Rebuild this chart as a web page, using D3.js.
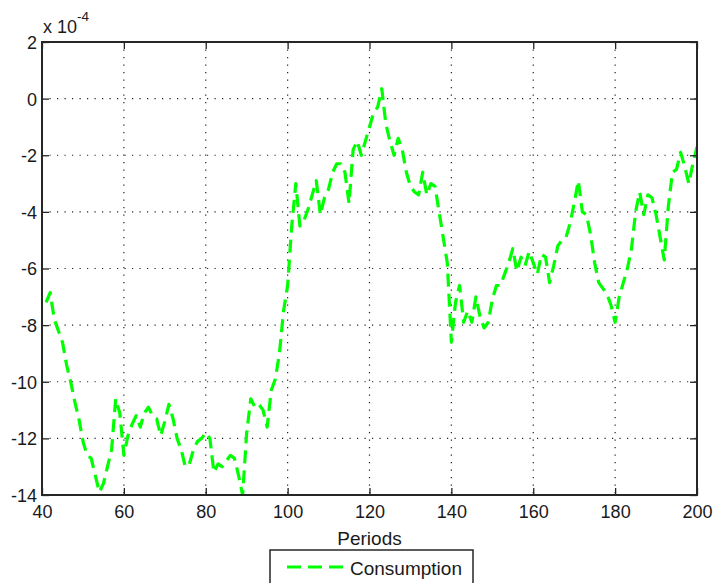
<!DOCTYPE html>
<html>
<head>
<meta charset="utf-8">
<script src="https://cdn.jsdelivr.net/npm/d3@7"></script>
<style>
  html, body { margin: 0; padding: 0; background: #fff; }
  svg { display: block; }
  text { font-family: Arial, "Liberation Sans", Helvetica, sans-serif; fill: #1a1a1a; }
</style>
</head>
<body>
<svg id="chart" width="715" height="583"></svg>
<script>
// ---- data (values in units of 1e-4) ----
const firstPeriod = 41;
const consumption = [
  -7.2, -6.85, -7.8, -8.2, -8.6, -9.4, -10.0, -10.7, -11.3, -12.1,
  -12.6, -12.7, -13.3, -13.9, -13.6, -13.0, -12.4, -10.6, -11.1, -12.6,
  -11.9, -11.5, -11.2, -11.6, -11.1, -10.9, -11.2, -11.3, -11.9, -11.4,
  -10.8, -11.3, -12.0, -12.4, -13.0, -12.9, -12.4, -12.1, -12.0, -11.8,
  -12.0, -13.2, -12.9, -13.0, -12.8, -12.6, -12.7, -13.3, -14.0, -11.8,
  -10.6, -10.9, -10.8, -11.0, -11.6, -10.3, -9.9, -9.0, -7.5, -6.6,
  -4.5, -3.0, -4.5, -4.3, -3.9, -3.4, -2.9, -4.1, -3.5, -3.2,
  -2.6, -2.3, -2.3, -2.6, -3.7, -1.8, -1.5, -2.0, -1.5, -1.0,
  -0.5, -0.3, 0.35, -0.9, -1.5, -2.0, -1.4, -1.8, -2.6, -3.1,
  -3.3, -3.4, -2.6, -3.4, -3.0, -3.1, -4.0, -4.9, -5.8, -8.6,
  -7.2, -6.6, -7.9, -7.5, -7.9, -7.0, -7.7, -8.1, -7.9, -7.1,
  -6.6, -6.6, -6.2, -5.8, -5.3, -6.1, -5.6, -5.9, -5.4, -5.8,
  -6.2, -5.5, -5.6, -6.5, -5.9, -5.2, -5.0, -4.9, -4.4, -3.7,
  -2.9, -4.0, -4.1, -4.8, -5.8, -6.5, -6.7, -6.9, -7.3, -7.9,
  -7.0, -6.5, -6.0, -5.3, -4.0, -3.3, -4.1, -3.4, -3.5, -4.1,
  -4.9, -5.7, -3.8, -2.6, -2.5, -1.9, -2.4, -3.0, -2.3, -1.7
];
const xTicks = [40, 60, 80, 100, 120, 140, 160, 180, 200];
const yTicks = [2, 0, -2, -4, -6, -8, -10, -12, -14];
const xDomain = [40, 200];
const yDomain = [-14, 2];
const xLabel = "Periods";
const seriesName = "Consumption";
const exponentBase = "x 10";
const exponentPower = "-4";

// ---- layout ----
const svg = d3.select("#chart");
const L = 42, R = 697, T = 42, B = 495;
const x = d3.scaleLinear().domain(xDomain).range([L, R]);
const y = d3.scaleLinear().domain(yDomain).range([B, T]);

const points = consumption.map((v, i) => ({ p: firstPeriod + i, v }));

svg.append("rect").attr("x", 0).attr("y", 0).attr("width", 715).attr("height", 583).attr("fill", "#fff");

// grid
const grid = svg.append("g").attr("stroke", "#222").attr("stroke-width", 1.2)
  .attr("stroke-dasharray", "1.2,6.3");
xTicks.filter(t => t > xDomain[0] && t < xDomain[1]).forEach(t => {
  grid.append("line").attr("x1", x(t)).attr("x2", x(t)).attr("y1", T).attr("y2", B);
});
yTicks.filter(t => t > yDomain[0] && t < yDomain[1]).forEach(t => {
  grid.append("line").attr("x1", L).attr("x2", R).attr("y1", y(t)).attr("y2", y(t));
});

// clip
svg.append("clipPath").attr("id", "clip").append("rect")
  .attr("x", L).attr("y", T).attr("width", R - L).attr("height", B - T);

// line
const line = d3.line().x(d => x(d.p)).y(d => y(d.v));
svg.append("path").datum(points)
  .attr("clip-path", "url(#clip)")
  .attr("d", line)
  .attr("fill", "none")
  .attr("stroke", "#00ff00")
  .attr("stroke-width", 3.2)
  .attr("stroke-dasharray", "13,7")
  .attr("stroke-linejoin", "round");

// axes (bottom / left with labels, inner ticks)
const tickLen = 7;
const xAxis = d3.axisBottom(x).tickValues(xTicks).tickSizeInner(-tickLen).tickSizeOuter(0).tickPadding(10).tickFormat(d => String(d));
const yAxis = d3.axisLeft(y).tickValues(yTicks).tickSizeInner(-tickLen).tickSizeOuter(0).tickPadding(5).tickFormat(d => String(d));
const gx = svg.append("g").attr("transform", `translate(0,${B})`).call(xAxis);
const gy = svg.append("g").attr("transform", `translate(${L},0)`).call(yAxis);
[gx, gy].forEach(g => {
  g.select(".domain").remove();
  g.selectAll(".tick line").attr("stroke", "#222").attr("stroke-width", 1.3);
  g.selectAll(".tick text").attr("font-size", 18).attr("fill", "#1a1a1a")
    .style("font-family", "Arial, 'Liberation Sans', sans-serif");
});
gy.selectAll(".tick text").attr("dy", "0.36em");
// mirrored ticks on top and right
const gxt = svg.append("g").attr("transform", `translate(0,${T})`)
  .call(d3.axisTop(x).tickValues(xTicks).tickSizeInner(-tickLen).tickSizeOuter(0).tickFormat(""));
const gyr = svg.append("g").attr("transform", `translate(${R},0)`)
  .call(d3.axisRight(y).tickValues(yTicks).tickSizeInner(-tickLen).tickSizeOuter(0).tickFormat(""));
[gxt, gyr].forEach(g => {
  g.select(".domain").remove();
  g.selectAll(".tick line").attr("stroke", "#222").attr("stroke-width", 1.3);
});

// box
svg.append("rect").attr("x", L).attr("y", T).attr("width", R - L).attr("height", B - T)
  .attr("fill", "none").attr("stroke", "#262626").attr("stroke-width", 2);

// exponent label
const ex = svg.append("text").attr("x", 43).attr("y", 33).attr("font-size", 18);
ex.append("tspan").text(exponentBase);
ex.append("tspan").attr("dy", -12).attr("font-size", 13.5).text(exponentPower);

// x label
svg.append("text").attr("x", (L + R) / 2).attr("y", 545).attr("text-anchor", "middle")
  .attr("font-size", 19).text(xLabel);

// legend
const lg = svg.append("g");
lg.append("rect").attr("x", 270).attr("y", 550).attr("width", 203).attr("height", 50)
  .attr("fill", "#fff").attr("stroke", "#262626").attr("stroke-width", 1.5);
lg.append("line").attr("x1", 287).attr("x2", 343).attr("y1", 567).attr("y2", 567)
  .attr("stroke", "#00ff00").attr("stroke-width", 3.2).attr("stroke-dasharray", "14,7");
lg.append("text").attr("x", 350).attr("y", 575).attr("font-size", 19).text(seriesName);
</script>
</body>
</html>
